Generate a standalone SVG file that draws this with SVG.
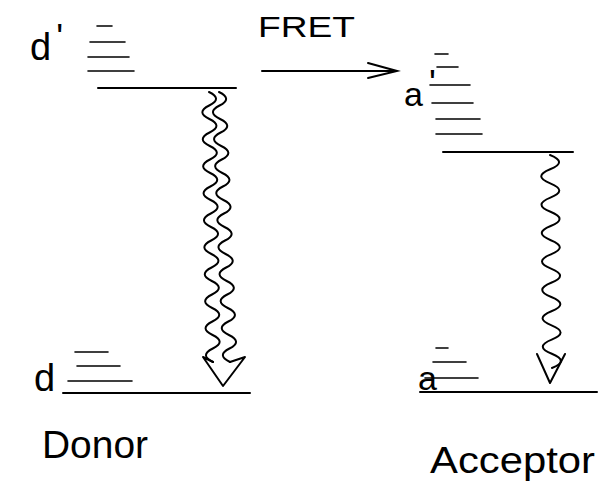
<svg xmlns="http://www.w3.org/2000/svg" width="599" height="499" viewBox="0 0 599 499">
<style>
.lvl{stroke:#000;stroke-width:2;stroke-linecap:round;fill:none}
.sub{stroke:#000;stroke-width:1.6;stroke-linecap:round;fill:none}
.wave{stroke:#000;stroke-width:2;fill:none;stroke-linejoin:round;stroke-linecap:round}
.lbl{font-family:"Liberation Sans",Arial,sans-serif;fill:#000}
</style>
<rect width="599" height="499" fill="#fff"/>
<g id="donor-excited">
<text class="lbl" x="30" y="60" font-size="38">d<tspan dx="5" dy="-10" font-size="36">'</tspan></text>
<path class="sub" d="M97 26H112M90 42H125M88 57H129M88 71H134"/>
<path class="lvl" d="M98 88H236"/>
</g>
<g id="donor-ground">
<text class="lbl" x="34" y="391" font-size="38">d</text>
<path class="sub" d="M75 352H108M77 366H120M68 381H132"/>
<path class="lvl" d="M63 393H250"/>
</g>
<g id="acceptor-excited">
<text class="lbl" x="404" y="106" font-size="34">a<tspan dx="6" dy="-10" font-size="36">'</tspan></text>
<path class="sub" d="M435 54H448M437 67H458M430 85H470M432 103H473M436 119H480M436 134H482"/>
<path class="lvl" d="M443 152H573"/>
</g>
<g id="acceptor-ground">
<text class="lbl" x="418" y="390" font-size="34">a</text>
<path class="sub" d="M436 348H448M433 362H466M425 378H478"/>
<path class="lvl" d="M420 392H597"/>
</g>
<g id="fret-label">
<text class="lbl" x="258" y="37" font-size="29" textLength="97" lengthAdjust="spacingAndGlyphs">FRET</text>
</g>
<g id="donor-label">
<text class="lbl" x="42" y="458" font-size="38" textLength="106" lengthAdjust="spacingAndGlyphs">Donor</text>
</g>
<g id="acceptor-label">
<text class="lbl" x="430" y="473" font-size="36" textLength="165" lengthAdjust="spacingAndGlyphs">Acceptor</text>
</g>
<g id="connectors">
<path class="lvl" d="M262 71H397M368 63L397 71L368 78"/>
<path class="wave" d="M209 92q14 6.75 0.2 13.5t0.2 13.5t0.2 13.5t0.2 13.5t0.2 13.5t0.2 13.5t0.2 13.5t0.2 13.5t0.2 13.5t0.2 13.5t0.2 13.5t0.2 13.5t0.2 13.5t0.2 13.5t0.2 13.5t0.2 13.5t0.2 13.5t0.2 13.5t0.2 13.5t0.2 13.5"/>
<path class="wave" d="M219 92q14 6.75 0.55 13.5t0.55 13.5t0.55 13.5t0.55 13.5t0.55 13.5t0.55 13.5t0.55 13.5t0.55 13.5t0.55 13.5t0.55 13.5t0.55 13.5t0.55 13.5t0.55 13.5t0.55 13.5t0.55 13.5t0.55 13.5t0.55 13.5t0.55 13.5t0.55 13.5t0.55 13.5"/>
<path class="wave" d="M213 362L203 357L223 386L245 357L230 362"/>
<path class="wave" d="M550 155q18 7.1 0.13 14.2t0.13 14.2t0.13 14.2t0.13 14.2t0.13 14.2t0.13 14.2t0.13 14.2t0.13 14.2t0.13 14.2t0.13 14.2t0.13 14.2t0.13 14.2t0.13 14.2t0.13 14.2t0.13 14.2"/>
<path class="wave" d="M537 354L550 383L565 354"/>
</g>
</svg>
